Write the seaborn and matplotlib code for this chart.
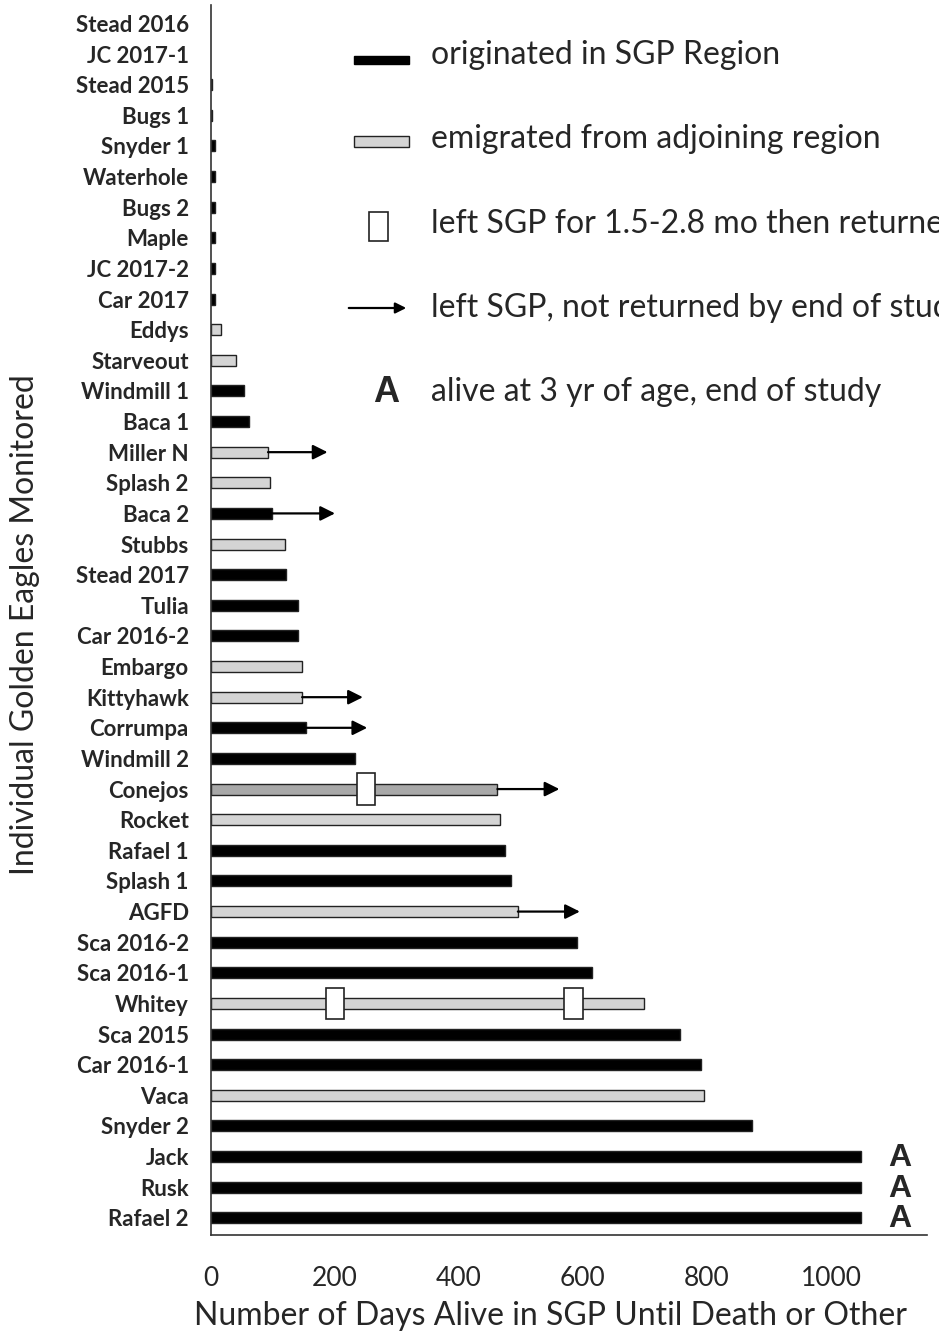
import numpy as np
import pandas as pd
import matplotlib.pyplot as plt
import seaborn as sns
from matplotlib.patches import Rectangle

# eagles, top to bottom
names = ["Stead 2016", "JC 2017-1", "Stead 2015", "Bugs 1", "Snyder 1", "Waterhole",
         "Bugs 2", "Maple", "JC 2017-2", "Car 2017", "Eddys", "Starveout",
         "Windmill 1", "Baca 1", "Miller N", "Splash 2", "Baca 2", "Stubbs",
         "Stead 2017", "Tulia", "Car 2016-2", "Embargo", "Kittyhawk", "Corrumpa",
         "Windmill 2", "Conejos", "Rocket", "Rafael 1", "Splash 1", "AGFD",
         "Sca 2016-2", "Sca 2016-1", "Whitey", "Sca 2015", "Car 2016-1", "Vaca",
         "Snyder 2", "Jack", "Rusk", "Rafael 2"]
days = [0, 0, 2, 2, 6, 6, 6, 6, 7, 7, 16, 40, 53, 62, 92, 95, 98, 119,
        121, 140, 140, 147, 147, 153, 232, 462, 467, 474, 484, 495,
        590, 614, 698, 756, 790, 795, 873, 1048, 1048, 1048]
origin = ["SGP"] * 10 + ["adj", "adj", "SGP", "SGP", "adj", "adj", "SGP", "adj",
          "SGP", "SGP", "SGP", "adj", "adj", "SGP", "SGP", "adj", "adj", "SGP",
          "SGP", "adj", "SGP", "SGP", "adj", "SGP", "SGP", "adj", "SGP",
          "SGP", "SGP", "SGP"]

# left SGP, not returned: arrow end in days
arrow_names = ["Miller N", "Baca 2", "Kittyhawk", "Corrumpa", "Conejos", "AGFD"]
arrow_ends = [188, 200, 245, 252, 562, 595]

# left for 1.5-2.8 mo then returned: box centre in days
box_names = ["Conejos", "Whitey", "Whitey"]
box_days = [250, 200, 585]

alive_names = ["Jack", "Rusk", "Rafael 2"]

df = pd.DataFrame({"name": names, "days": days, "origin": origin})

W, H = 939, 1332
fig = plt.figure(figsize=(W / 100, H / 100), dpi=100)
sns.set_style("white")
plt.rcParams["font.family"] = ["Lato", "DejaVu Sans"]

def fx(x):
    return x / W

def fy(y):
    return 1 - y / H

ax = fig.add_axes([fx(211), fy(1235), fx(927) - fx(211), fy(5) - fy(1235)])

sns.barplot(data=df, y="name", x="days", hue="origin", orient="h",
            palette={"SGP": "black", "adj": "#d4d4d4"}, dodge=False,
            width=0.36, edgecolor="#222222", linewidth=1.0, legend=False, ax=ax)

# Conejos bar is drawn a darker grey; zero-length bars draw nothing
ci = names.index("Conejos")
for p in ax.patches:
    if abs(p.get_y() + p.get_height() / 2 - ci) < 0.01:
        p.set_facecolor("#a8a8a8")
    if p.get_width() == 0:
        p.set_linewidth(0)

for n, e in zip(arrow_names, arrow_ends):
    i = names.index(n)
    ax.annotate("", xy=(e, i), xytext=(days[i], i),
                arrowprops=dict(arrowstyle="-|>", color="black", lw=1.6,
                                mutation_scale=22, shrinkA=0, shrinkB=0))

for n, d in zip(box_names, box_days):
    i = names.index(n)
    ax.add_patch(Rectangle((d - 15, i - 0.52), 30, 1.04, facecolor="white",
                           edgecolor="#222222", lw=1.2, zorder=5))

for n in alive_names:
    i = names.index(n)
    ax.text(1111, i + 0.05, "A", ha="center", va="center", fontsize=23,
            fontweight="bold", family="Liberation Sans")

ax.set_xlim(0, 1155)
ax.set_ylim(39.56, -0.6)
ax.set_xticks([0, 200, 400, 600, 800, 1000])
ax.tick_params(axis="x", length=12, width=1.2, direction="out", labelsize=19,
               pad=10, color="#333333")
ax.tick_params(axis="y", length=0, labelsize=16, pad=16)
for lab in ax.get_yticklabels():
    lab.set_fontweight("bold")
for s in ["top", "right"]:
    ax.spines[s].set_visible(False)
for s in ["left", "bottom"]:
    ax.spines[s].set_color("#333333")
    ax.spines[s].set_linewidth(1.2)
ax.set_ylabel("")
ax.set_xlabel("")

fig.text(fx(551), fy(1316), "Number of Days Alive in SGP Until Death or Other",
         ha="center", va="center", fontsize=23)
fig.text(fx(25), fy(625), "Individual Golden Eagles Monitored", rotation=90,
         ha="center", va="center", fontsize=23)

# legend
fig.patches.append(Rectangle((fx(354), fy(64)), fx(55), 8 / H, transform=fig.transFigure,
                             facecolor="black", edgecolor="black"))
fig.patches.append(Rectangle((fx(354), fy(147)), fx(55), 11 / H, transform=fig.transFigure,
                             facecolor="#d4d4d4", edgecolor="#222222", lw=1.0))
fig.patches.append(Rectangle((fx(369), fy(241)), fx(19), 29 / H, transform=fig.transFigure,
                             facecolor="white", edgecolor="#222222", lw=1.2))
fig.add_artist(plt.matplotlib.patches.FancyArrowPatch(
    (fx(346), fy(308)), (fx(409), fy(308)), transform=fig.transFigure,
    arrowstyle="-|>", mutation_scale=16, color="black", lw=1.6))
fig.text(fx(386), fy(392), "A", ha="center", va="center", fontsize=26,
         fontweight="bold", family="Liberation Sans")

leg_text = ["originated in SGP Region", "emigrated from adjoining region",
            "left SGP for 1.5-2.8 mo then returned",
            "left SGP, not returned by end of study",
            "alive at 3 yr of age, end of study"]
leg_y = [55, 139, 224, 308, 392]
for t, y in zip(leg_text, leg_y):
    fig.text(fx(431), fy(y), t, ha="left", va="center", fontsize=23)

fig.savefig("out.png", dpi=100)
